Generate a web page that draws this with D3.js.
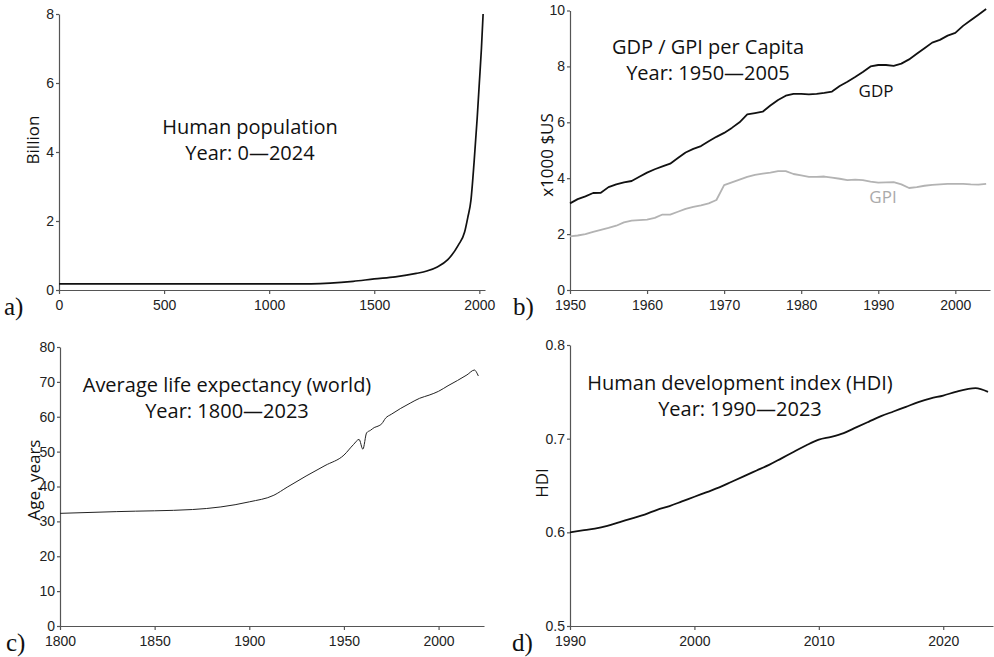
<!DOCTYPE html>
<html>
<head>
<meta charset="utf-8">
<script src="https://cdn.jsdelivr.net/npm/d3@7"></script>
<style>
  body { margin: 0; background: #fff; }
  svg { display: block; font-family: "Open Sans", sans-serif; }
  .tick text { font-size: 14px; fill: #222; }
  .domain, .tick line { stroke: #555; stroke-width: 1.2; }
  .title { font-size: 20px; fill: #111; text-anchor: middle; }
  .ylabel { font-size: 17px; fill: #111; text-anchor: middle; }
  .letter { font-family: "Liberation Serif", "DejaVu Serif", serif; font-size: 25px; fill: #111; }
</style>
</head>
<body>
<div id="chart"></div>
<script>
// a) human population, billion
const popYears = [0, 1000, 1200, 1400, 1500, 1600, 1700, 1750, 1800, 1850, 1900, 1930, 1945, 1960, 1975, 1990, 2000, 2010, 2018];
const popValues = [0.18, 0.18, 0.18, 0.25, 0.32, 0.38, 0.48, 0.55, 0.67, 0.88, 1.3, 1.68, 2.1, 2.6, 3.7, 5.0, 6.0, 7.0, 8.0];

// b) GDP / GPI per capita, x1000 $US
const econYears = d3.range(1950, 2005);
const gdpValues = [3.10, 3.25, 3.35, 3.47, 3.48, 3.68, 3.78, 3.85, 3.90, 4.05,
  4.20, 4.32, 4.42, 4.52, 4.72, 4.92, 5.05, 5.15, 5.32, 5.48,
  5.62, 5.80, 6.00, 6.28, 6.33, 6.38, 6.60, 6.80, 6.95, 7.02,
  7.02, 7.00, 7.02, 7.05, 7.10, 7.30, 7.45, 7.62, 7.80, 8.00,
  8.05, 8.05, 8.02, 8.10, 8.25, 8.45, 8.65, 8.85, 8.95, 9.10,
  9.20, 9.45, 9.65, 9.85, 10.05];
const gpiValues = [1.92, 1.95, 2.00, 2.08, 2.15, 2.22, 2.30, 2.42, 2.48, 2.50,
  2.52, 2.58, 2.70, 2.70, 2.80, 2.90, 2.97, 3.03, 3.10, 3.22,
  3.75, 3.85, 3.95, 4.05, 4.12, 4.16, 4.20, 4.25, 4.25, 4.15,
  4.10, 4.05, 4.05, 4.06, 4.02, 3.98, 3.93, 3.95, 3.93, 3.88,
  3.84, 3.85, 3.86, 3.78, 3.65, 3.68, 3.73, 3.76, 3.78, 3.80,
  3.80, 3.80, 3.78, 3.77, 3.80];

// c) average life expectancy (world), years
const lifeYears = [1800, 1830, 1870, 1900, 1913, 1920, 1930, 1940, 1950, 1955, 1958, 1960, 1962, 1964, 1966, 1968, 1970, 1972, 1975, 1980, 1985, 1990, 1995, 2000, 2005, 2010, 2015, 2019, 2020, 2021];
const lifeValues = [32.3, 32.8, 33.4, 35.6, 37.5, 39.8, 43.0, 46.0, 49.0, 52.0, 53.5, 50.7, 55.4, 56.1, 56.9, 57.3, 58.0, 59.6, 60.7, 62.4, 63.9, 65.3, 66.2, 67.3, 68.9, 70.4, 72.0, 73.4, 72.8, 71.7];

// d) human development index
const hdiYears = [1990, 1991, 1992, 1993, 1994, 1995, 1996, 1997, 1998, 1999,
  2000, 2001, 2002, 2003, 2004, 2005, 2006, 2007, 2008, 2009,
  2010, 2011, 2012, 2013, 2014, 2015, 2016, 2017, 2018, 2019,
  2020, 2021, 2022.6, 2023.6];
const hdiValues = [0.600, 0.602, 0.604, 0.607, 0.611, 0.615, 0.619, 0.624, 0.628, 0.633,
  0.638, 0.643, 0.648, 0.654, 0.660, 0.666, 0.672, 0.679, 0.686, 0.693,
  0.699, 0.702, 0.706, 0.712, 0.718, 0.724, 0.729, 0.734, 0.739, 0.743,
  0.746, 0.750, 0.754, 0.750];

const svg = d3.select("#chart").append("svg")
  .attr("width", 994)
  .attr("height", 657);

function drawPanel(p) {
  const x = d3.scaleLinear().domain(p.xDomain).range([p.left, p.right]);
  const y = d3.scaleLinear().domain(p.yDomain).range([p.bottom, p.top]);
  const g = svg.append("g");

  g.append("g")
    .attr("transform", "translate(0," + p.bottom + ")")
    .call(d3.axisBottom(x).tickValues(p.xTicks).tickFormat(d3.format("d"))
      .tickSize(4).tickSizeOuter(0).tickPadding(6));

  g.append("g")
    .attr("transform", "translate(" + p.left + ",0)")
    .call(d3.axisLeft(y).tickValues(p.yTicks).tickFormat(p.yFormat)
      .tickSize(3).tickSizeOuter(0).tickPadding(2));

  p.series.forEach(function (s) {
    const line = d3.line()
      .x(function (d, i) { return x(s.xs[i]); })
      .y(function (d) { return y(d); })
      .curve(s.curve || d3.curveLinear);
    g.append("path")
      .datum(s.ys)
      .attr("fill", "none")
      .attr("stroke", s.color)
      .attr("stroke-width", s.width)
      .attr("stroke-linejoin", "round")
      .attr("d", line);
  });

  g.append("text")
    .attr("class", "ylabel")
    .attr("transform", "translate(" + p.ylabelX + "," + p.ylabelY + ") rotate(-90)")
    .attr("dy", "0.35em")
    .text(p.ylabel);

  p.titles.forEach(function (t, i) {
    g.append("text")
      .attr("class", "title")
      .attr("x", p.titleX)
      .attr("y", p.titleY + i * 26)
      .text(t);
  });

  g.append("text")
    .attr("class", "letter")
    .attr("x", p.letterX)
    .attr("y", p.bottom + 25)
    .text(p.letter);

  return { x: x, y: y, g: g };
}

drawPanel({
  left: 59, right: 485, top: 14, bottom: 290,
  xDomain: [0, 2027], yDomain: [0, 8],
  xTicks: [0, 500, 1000, 1500, 2000], yTicks: [0, 2, 4, 6, 8],
  yFormat: d3.format("d"),
  series: [{ xs: popYears, ys: popValues, color: "#111", width: 1.7, curve: d3.curveMonotoneX }],
  ylabel: "Billion", ylabelX: 33, ylabelY: 140,
  titles: ["Human population", "Year: 0\u20142024"], titleX: 250, titleY: 134,
  letter: "a)", letterX: 4
});

const pb = drawPanel({
  left: 570, right: 990, top: 10.5, bottom: 290,
  xDomain: [1950, 2004.5], yDomain: [0, 10],
  xTicks: [1950, 1960, 1970, 1980, 1990, 2000], yTicks: [0, 2, 4, 6, 8, 10],
  yFormat: d3.format("d"),
  series: [
    { xs: econYears, ys: gpiValues, color: "#b3b3b3", width: 1.8 },
    { xs: econYears, ys: gdpValues, color: "#111", width: 1.8 }
  ],
  ylabel: "x1000 $US", ylabelX: 547, ylabelY: 155,
  titles: ["GDP / GPI per Capita", "Year: 1950\u20142005"], titleX: 708, titleY: 54,
  letter: "b)", letterX: 513
});
pb.g.append("text").attr("class", "ylabel").attr("x", 876).attr("y", 97)
  .style("text-anchor", "middle").text("GDP");
pb.g.append("text").attr("class", "ylabel").attr("x", 883).attr("y", 203)
  .style("text-anchor", "middle").style("fill", "#aaa").text("GPI");

drawPanel({
  left: 60, right: 484, top: 347, bottom: 626,
  xDomain: [1800, 2024], yDomain: [0, 80],
  xTicks: [1800, 1850, 1900, 1950, 2000], yTicks: d3.range(0, 90, 10),
  yFormat: d3.format("d"),
  series: [{ xs: lifeYears, ys: lifeValues, color: "#222", width: 1, curve: d3.curveMonotoneX }],
  ylabel: "Age, years", ylabelX: 34, ylabelY: 480,
  titles: ["Average life expectancy (world)", "Year: 1800\u20142023"], titleX: 227, titleY: 392,
  letter: "c)", letterX: 6
});

drawPanel({
  left: 570, right: 993, top: 345, bottom: 626,
  xDomain: [1990, 2024], yDomain: [0.5, 0.8],
  xTicks: [1990, 2000, 2010, 2020], yTicks: [0.5, 0.6, 0.7, 0.8],
  yFormat: d3.format(".1f"),
  series: [{ xs: hdiYears, ys: hdiValues, color: "#111", width: 1.8, curve: d3.curveMonotoneX }],
  ylabel: "HDI", ylabelX: 542, ylabelY: 483,
  titles: ["Human development index (HDI)", "Year: 1990\u20142023"], titleX: 740, titleY: 390,
  letter: "d)", letterX: 512
});
</script>
</body>
</html>
